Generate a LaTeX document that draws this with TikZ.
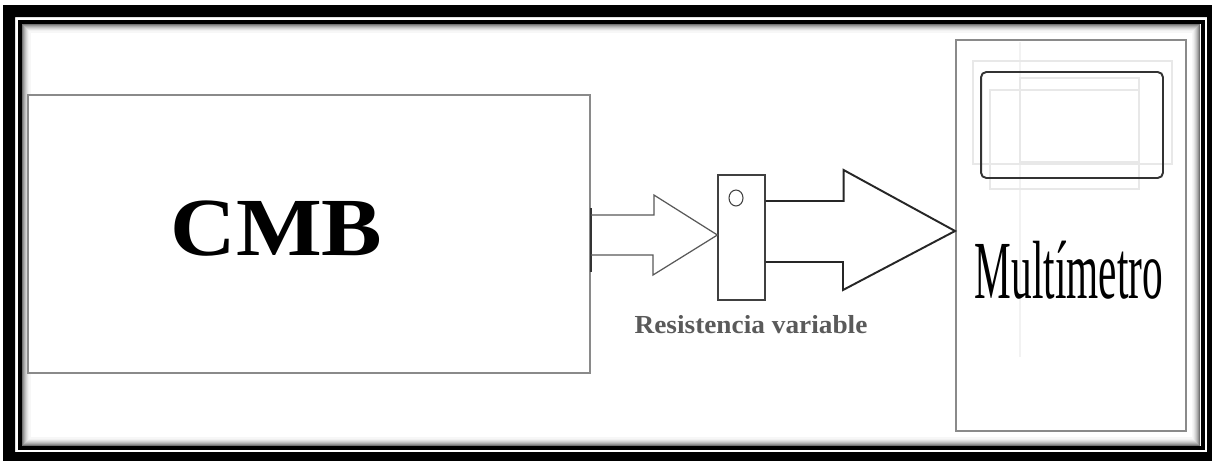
\documentclass[tikz,border=0pt]{standalone}
\usepackage{fontspec}
\setmainfont{Liberation Serif}
\usepackage{graphicx}
\usetikzlibrary{calc,shapes.geometric}
\definecolor{boxgray}{HTML}{8A8A8A}
\definecolor{labelgray}{HTML}{5A5A5A}
\definecolor{faint}{HTML}{E8E8E8}
\definecolor{fainter}{HTML}{F2F2F2}
\tikzset{
  blockbox/.style={draw=boxgray, line width=1.1pt, inner sep=0pt, fill=white},
  thinarrow/.style={draw=black!65, line width=0.7pt, line join=miter},
  fatarrow/.style={draw=black!85, line width=1.1pt, line join=miter},
  faintline/.style={draw=faint, line width=0.6pt},
}
\begin{document}
\begin{tikzpicture}[x=0.02cm,y=-0.02cm]
\useasboundingbox (0,0) rectangle (1212,460);
\clip (0,0) rectangle (1212,460);
\fill[white] (0,0) rectangle (1212,460);
% frame
\fill[black,even odd rule] (3,5) rectangle (1240,480) (15,17) rectangle (1207,452);
\draw[line width=2.3pt] (20,22) rectangle (1202.5,448);
\foreach \i/\c in {1/55,2/42,3/32,4/24,5/17,6/11,7/6,8/3}{
  \draw[black!\c, line width=0.6pt] (22+\i,24+\i) rectangle (1200.5-\i,446-\i);
}
% blocks
\node[blockbox, minimum width=11.24cm, minimum height=5.56cm] (cmb) at (309,234) {};
\node[anchor=base, font=\bfseries\fontsize{47}{50}\selectfont] (cmbtext) at (276.5,255) {\scalebox{1.1}[1]{CMB}};
\draw[black!80, line width=1.2pt] ($(cmb.east)+(0,-26)$) -- ($(cmb.east)+(0,38)$);

\node[draw=black!75, line width=0.7pt, inner sep=0pt, minimum width=0.94cm, minimum height=2.5cm] (res) at (741.5,237.5) {};
\node[draw=black!75, line width=0.6pt, ellipse, inner sep=0pt, minimum width=0.28cm, minimum height=0.32cm] (knob) at (736,198) {};
\node[anchor=base, text=labelgray, font=\bfseries\fontsize{14.8}{16}\selectfont] (reslabel) at (751,333) {\scalebox{1.05}[1]{Resistencia variable}};

\node[blockbox, minimum width=4.6cm, minimum height=7.82cm] (meter) at (1071,235.5) {};
% faint ghost lines
\draw[draw=fainter, line width=0.6pt] (1020,42) -- (1020,357);
\draw[faintline] (973,61) rectangle (1172,164);
\draw[faintline] (990,90) rectangle (1139,189);
\draw[faintline] (1020,78) rectangle (1139,162);
\node[draw=black!80, line width=1.1pt, rounded corners=3pt, inner sep=0pt, minimum width=3.64cm, minimum height=2.12cm] (display) at (1072,125) {};
\node[anchor=base, font=\fontsize{47}{50}\selectfont] (metertext) at (1069,298) {\scalebox{0.5}[1]{Multímetro}};

% arrows
\draw[thinarrow] ($(cmb.east)+(0,-19)$) -- ++(63,0) -- ++(0,-20) -- ($(res.west)+(0,-2.5)$)
  -- (653,275) -- (653,255) -- ($(cmb.east)+(0,21)$);
\draw[fatarrow] ($(res.east)+(0,-36.5)$) -- ++(78,0) -- ++(0,-31) -- ($(meter.west)+(0,-4.5)$)
  -- (843,290) -- (843,262) -- ($(res.east)+(0,24.5)$);
\end{tikzpicture}
\end{document}
